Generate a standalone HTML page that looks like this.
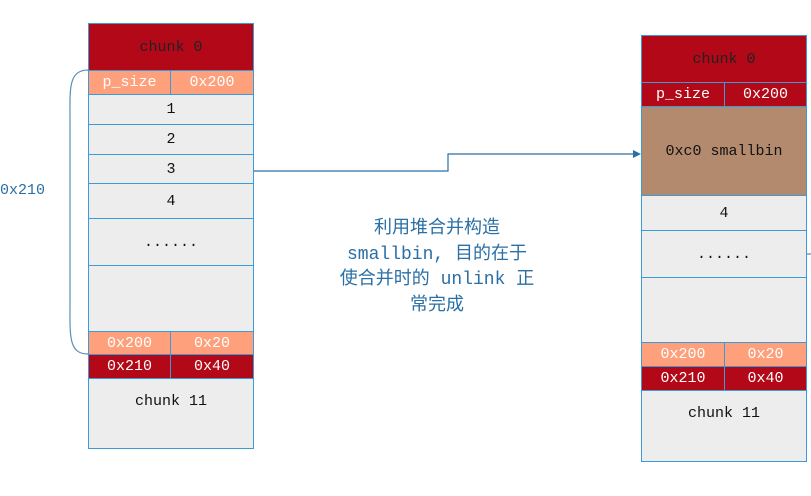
<!DOCTYPE html>
<html><head><meta charset="utf-8"><style>
body{margin:0;width:811px;height:496px;background:#fff;position:relative;overflow:hidden;font-family:"Liberation Mono","Noto Serif CJK SC",monospace;font-size:15px}
.c{position:absolute;box-sizing:border-box;border:1px solid #3d9ad8;display:flex;align-items:center;justify-content:center;color:#111}
.r{background:#b30818;color:#fff}.o{background:#fea07c;color:#fff}.g{background:#ededed}.b{background:#b48a6e}
.lbl{position:absolute;color:#2a6fa5;font-family:"Liberation Mono","Noto Sans CJK SC",monospace;font-size:18px;text-align:center;line-height:25.5px}
</style></head><body>
<!-- left -->
<div class="c r" style="left:88px;top:23px;width:166px;height:48px;color:#222">chunk 0</div>
<div class="c o" style="left:88px;top:70px;width:83px;height:25px">p_size</div>
<div class="c o" style="left:170px;top:70px;width:84px;height:25px">0x200</div>
<div class="c g" style="left:88px;top:94px;width:166px;height:31px">1</div>
<div class="c g" style="left:88px;top:124px;width:166px;height:31px">2</div>
<div class="c g" style="left:88px;top:154px;width:166px;height:30px">3</div>
<div class="c g" style="left:88px;top:183px;width:166px;height:36px">4</div>
<div class="c g" style="left:88px;top:218px;width:166px;height:48px">......</div>
<div class="c g" style="left:88px;top:265px;width:166px;height:67px"></div>
<div class="c o" style="left:88px;top:331px;width:83px;height:24px">0x200</div>
<div class="c o" style="left:170px;top:331px;width:84px;height:24px">0x20</div>
<div class="c r" style="left:88px;top:354px;width:83px;height:25px">0x210</div>
<div class="c r" style="left:170px;top:354px;width:84px;height:25px">0x40</div>
<div class="c g" style="left:88px;top:378px;width:166px;height:71px;align-items:flex-start;padding-top:14px">chunk 11</div>
<!-- right -->
<div class="c r" style="left:641px;top:35px;width:166px;height:48px;color:#222">chunk 0</div>
<div class="c r" style="left:641px;top:82px;width:84px;height:25px">p_size</div>
<div class="c r" style="left:724px;top:82px;width:83px;height:25px">0x200</div>
<div class="c b" style="left:641px;top:106px;width:166px;height:90px">0xc0 smallbin</div>
<div class="c g" style="left:641px;top:195px;width:166px;height:36px">4</div>
<div class="c g" style="left:641px;top:230px;width:166px;height:48px">......</div>
<div class="c g" style="left:641px;top:277px;width:166px;height:66px"></div>
<div class="c o" style="left:641px;top:342px;width:84px;height:25px">0x200</div>
<div class="c o" style="left:724px;top:342px;width:83px;height:25px">0x20</div>
<div class="c r" style="left:641px;top:366px;width:84px;height:25px">0x210</div>
<div class="c r" style="left:724px;top:366px;width:83px;height:25px">0x40</div>
<div class="c g" style="left:641px;top:390px;width:166px;height:72px;align-items:flex-start;padding-top:14px">chunk 11</div>
<svg width="811" height="496" style="position:absolute;left:0;top:0" >
<path d="M254,171 H448 V154 H634" fill="none" stroke="#2a6fa5" stroke-width="1.2"/>
<path d="M633,150 L641,154 L633,158 Z" fill="#2a6fa5"/>
<path d="M88,70 C68,70 70,90 70,120 V300 C70,335 68,354 88,354" fill="none" stroke="#5a8fb5" stroke-width="1.2"/>
<path d="M807,254 H811" stroke="#2a6fa5"/>
</svg>
<div class="lbl" style="left:0;top:178px;font-size:15px;text-align:left">0x210</div>
<div class="lbl" style="left:312px;top:217px;width:250px">利用堆合并构造<br>smallbin, 目的在于<br>使合并时的 unlink 正<br>常完成</div>
</body></html>
